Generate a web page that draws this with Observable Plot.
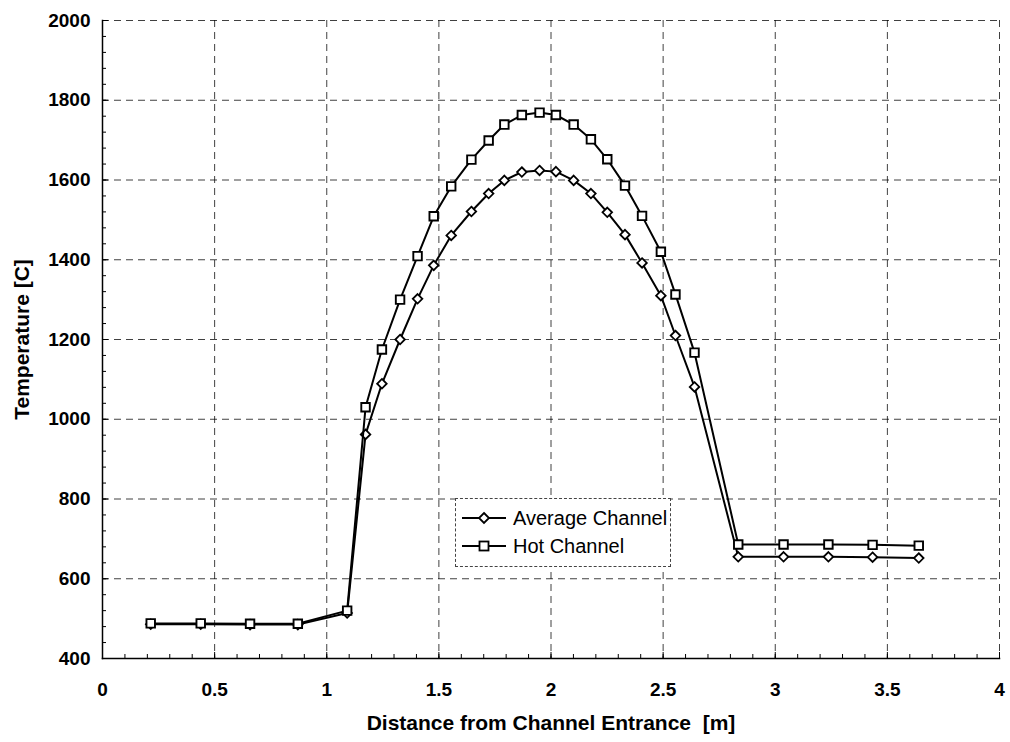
<!DOCTYPE html>
<html>
<head>
<meta charset="utf-8">
<script src="https://cdn.jsdelivr.net/npm/d3@7"></script>
<script src="https://cdn.jsdelivr.net/npm/@observablehq/plot@0.6"></script>
<style>
  html, body { margin: 0; padding: 0; background: #fff; }
  #wrap { position: relative; width: 1010px; height: 742px; font-family: "Liberation Sans", Arial, sans-serif; }
  #legend { position: absolute; left: 455px; top: 498px; width: 214px; height: 67px; border: 1px dashed #444; background: #fff; }
  .row { position: absolute; left: 6px; height: 24px; display: flex; align-items: center; font-size: 20px; color: #000; }
  .row svg { margin-right: 5px; }
</style>
</head>
<body>
<div id="wrap"></div>
<script>
// Distance from channel entrance [m]
const distance = [0.215, 0.438, 0.658, 0.871, 1.091, 1.173, 1.246, 1.327, 1.405, 1.477, 1.555, 1.645, 1.722, 1.792, 1.870, 1.949, 2.022, 2.101, 2.178, 2.251, 2.330, 2.406, 2.490, 2.555, 2.640, 2.835, 3.037, 3.237, 3.434, 3.640];
// Average channel temperature [C]
const averageChannel = [486, 486, 485, 485, 514, 962, 1089, 1200, 1302, 1386, 1461, 1521, 1566, 1599, 1620, 1624, 1621, 1599, 1566, 1519, 1463, 1392, 1310, 1210, 1081, 655, 655, 655, 654, 652];
// Hot channel temperature [C]
const hotChannel = [488, 488, 487, 487, 520, 1030, 1175, 1300, 1409, 1509, 1584, 1651, 1699, 1739, 1763, 1769, 1763, 1739, 1702, 1652, 1586, 1510, 1420, 1313, 1167, 686, 686, 686, 685, 683];

const seriesNames = ["Average Channel", "Hot Channel"];
const xTicks = [0, 0.5, 1, 1.5, 2, 2.5, 3, 3.5, 4];
const yTicks = [400, 600, 800, 1000, 1200, 1400, 1600, 1800, 2000];
const xMinor = d3.range(0, 41).map(i => i / 10);
const yMinor = d3.range(0, 41).map(i => 400 + i * 40);
const xTitle = "Distance from Channel Entrance  [m]";
const yTitle = "Temperature [C]";

const avg = distance.map((d, i) => ({x: d, y: averageChannel[i]}));
const hot = distance.map((d, i) => ({x: d, y: hotChannel[i]}));

const font = "Liberation Sans, Arial, sans-serif";

const chart = Plot.plot({
  width: 1010,
  height: 742,
  marginLeft: 102,
  marginRight: 11,
  marginTop: 20,
  marginBottom: 84,
  style: {fontFamily: font, background: "#fff", color: "#000"},
  x: {domain: [0, 4]},
  y: {domain: [400, 2000]},
  marks: [
    Plot.gridX(xTicks.slice(1), {stroke: "#000", strokeOpacity: 0.75, strokeWidth: 1, strokeDasharray: "7,5"}),
    Plot.gridY(yTicks.slice(1), {stroke: "#000", strokeOpacity: 0.75, strokeWidth: 1, strokeDasharray: "7,5"}),
    Plot.axisX(xMinor, {anchor: "bottom", tickSize: -4, tickFormat: () => "", label: null, stroke: "#000"}),
    Plot.axisY(yMinor, {anchor: "left", tickSize: -4, tickFormat: () => "", label: null, stroke: "#000"}),
    Plot.axisX(xTicks, {anchor: "bottom", tickSize: -6, tickPadding: 30, fontSize: 19, fontWeight: "bold",
      tickFormat: d => String(d), label: null}),
    Plot.axisY(yTicks, {anchor: "left", tickSize: -6, tickPadding: 18, fontSize: 19, fontWeight: "bold",
      tickFormat: d => String(d), label: null}),
    Plot.text([xTitle], {frameAnchor: "bottom", lineAnchor: "middle", textAnchor: "middle", dy: 65, fontSize: 21, fontWeight: "bold", fill: "#000"}),
    Plot.text([yTitle], {frameAnchor: "left", lineAnchor: "middle", textAnchor: "middle", dx: -80, rotate: -90, fontSize: 21, fontWeight: "bold", fill: "#000"}),
    Plot.frame({anchor: "left", stroke: "#000", strokeWidth: 1.5}),
    Plot.frame({anchor: "bottom", stroke: "#000", strokeWidth: 1.5}),
    Plot.line(avg, {x: "x", y: "y", stroke: "#000", strokeWidth: 2}),
    Plot.dot(avg, {x: "x", y: "y", symbol: "diamond2", r: 4.3, stroke: "#000", strokeWidth: 1.8, fill: "#fff"}),
    Plot.line(hot, {x: "x", y: "y", stroke: "#000", strokeWidth: 2}),
    Plot.dot(hot, {x: "x", y: "y", symbol: "square", r: 4.8, stroke: "#000", strokeWidth: 1.9, fill: "#fff"})
  ]
});

const wrap = document.getElementById("wrap");
wrap.appendChild(chart);

// legend
const legend = document.createElement("div");
legend.id = "legend";
const symbols = ["diamond", "square"];
seriesNames.forEach((name, i) => {
  const row = document.createElement("div");
  row.className = "row";
  row.style.top = (7 + i * 28) + "px";
  const sym = symbols[i] === "diamond"
    ? '<path d="M22,7 L27,12 L22,17 L17,12 Z" fill="#fff" stroke="#000" stroke-width="1.8"/>'
    : '<rect x="17.5" y="7.5" width="9" height="9" fill="#fff" stroke="#000" stroke-width="1.8"/>';
  row.innerHTML = '<svg width="46" height="24"><line x1="0" x2="44" y1="12" y2="12" stroke="#000" stroke-width="2"/>' + sym + '</svg><span>' + name + '</span>';
  legend.appendChild(row);
});
wrap.appendChild(legend);
</script>
</body>
</html>
